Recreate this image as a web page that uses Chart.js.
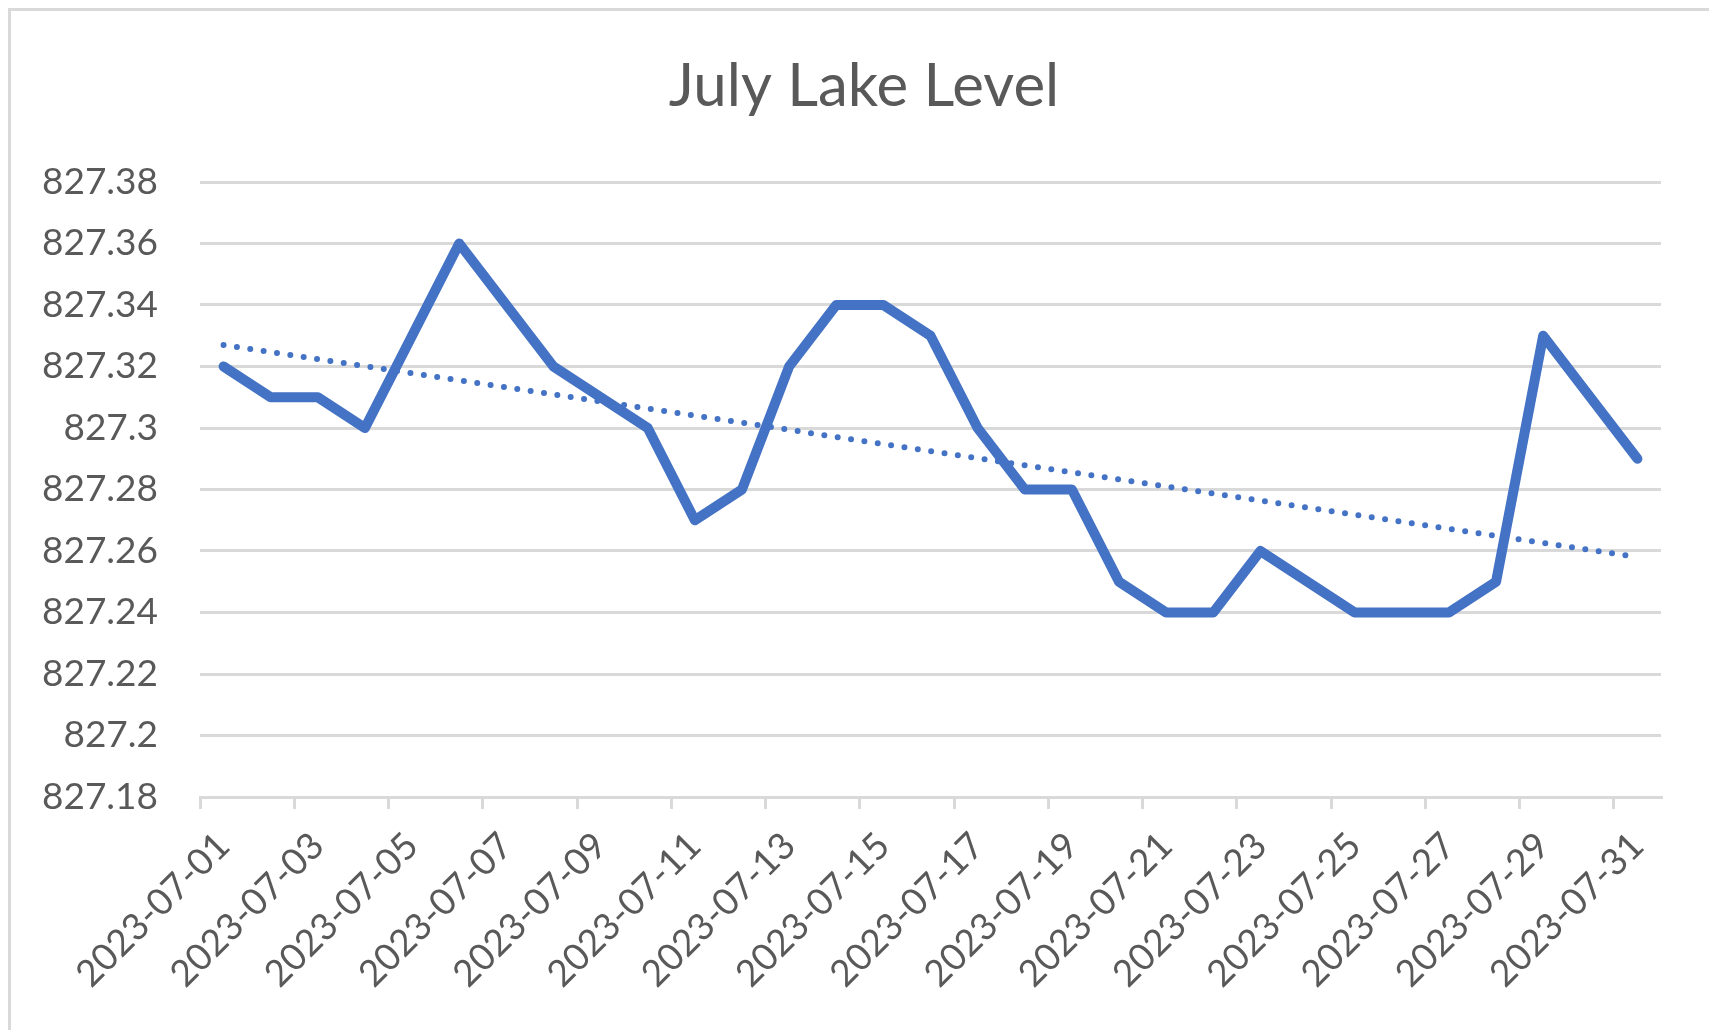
<!DOCTYPE html>
<html>
<head>
<meta charset="utf-8">
<title>July Lake Level</title>
<script src="https://cdn.jsdelivr.net/npm/chart.js@4/dist/chart.umd.min.js"></script>
<style>
  html, body { margin: 0; padding: 0; background: #fff; overflow: hidden; }
  #frame {
    position: absolute; left: 8px; top: 8px;
    width: 1800px; height: 1100px;
    border: 3px solid #d9d9d9;
  }
  #wrap { position: absolute; left: 0; top: 0; width: 1709px; height: 1030px; }
</style>
</head>
<body>
<div id="frame"></div>
<div id="wrap"><canvas id="chart" width="1709" height="1030"></canvas></div>
<script>
// days of July 2023
const days = ['2023-07-01', '2023-07-02', '2023-07-03', '2023-07-04', '2023-07-05', '2023-07-06',
    '2023-07-07', '2023-07-08', '2023-07-09', '2023-07-10', '2023-07-11', '2023-07-12',
    '2023-07-13', '2023-07-14', '2023-07-15', '2023-07-16', '2023-07-17', '2023-07-18',
    '2023-07-19', '2023-07-20', '2023-07-21', '2023-07-22', '2023-07-23', '2023-07-24',
    '2023-07-25', '2023-07-26', '2023-07-27', '2023-07-28', '2023-07-29', '2023-07-30',
    '2023-07-31'];

// lake level
const levels = [827.32, 827.31, 827.31, 827.30, 827.33, 827.36, 827.34, 827.32, 827.31, 827.30,
    827.27, 827.28, 827.32, 827.34, 827.34, 827.33, 827.30, 827.28, 827.28, 827.25,
    827.24, 827.24, 827.26, 827.25, 827.24, 827.24, 827.24, 827.25, 827.33, 827.31,
    827.29];

// dotted trend line, ends
const trendStart = 827.327;
const trendEnd = 827.258;

const yMin = 827.18;
const yMax = 827.38;
const yStep = 0.02;

const trend = days.map((d, i) => i === 0 ? trendStart : (i === days.length - 1 ? trendEnd : null));

const grey = '#d9d9d9';
const textGrey = '#595959';
const blue = '#4472c4';

const ctx = document.getElementById('chart');
const chart = new Chart(ctx, {
    type: 'line',
    data: {
        labels: days,
        datasets: [{
            label: 'Level',
            data: levels,
            borderColor: blue,
            backgroundColor: blue,
            borderWidth: 10,
            borderJoinStyle: 'round',
            borderCapStyle: 'round',
            pointRadius: 0,
            tension: 0,
            order: 2
        }, {
            label: 'Linear (Level)',
            data: trend,
            spanGaps: true,
            borderColor: blue,
            borderWidth: 6,
            borderDash: [0, 13.5],
            borderCapStyle: 'round',
            pointRadius: 0,
            order: 1
        }]
    },
    options: {
        responsive: false,
        animation: false,
        // left padding shifts the title centre to match the original
        layout: { padding: { left: 19, right: 0, top: 0, bottom: 0 } },
        plugins: {
            legend: { display: false },
            tooltip: { enabled: false },
            title: {
                display: true,
                text: 'July Lake Level',
                color: textGrey,
                font: { family: 'Lato', size: 60, weight: 'normal', lineHeight: 1.2 },
                padding: { top: 51, bottom: 59 }
            }
        },
        scales: {
            x: {
                offset: true,
                grid: {
                    offset: true,
                    drawOnChartArea: false,
                    drawTicks: true,
                    tickLength: 12,
                    lineWidth: 3,
                    color: c => (c.index % 2 === 0 ? grey : 'rgba(0,0,0,0)')
                },
                border: { display: true, color: grey, width: 3 },
                ticks: {
                    autoSkip: false,
                    minRotation: 45,
                    maxRotation: 45,
                    padding: 15,
                    color: textGrey,
                    font: { family: 'Lato', size: 37 },
                    callback: (v, i) => (i % 2 === 0 ? days[i] : '')
                },
                afterFit: s => { s.height = 233; }
            },
            y: {
                min: yMin,
                max: yMax,
                grid: { color: grey, lineWidth: 3, drawTicks: false },
                border: { display: false },
                ticks: {
                    stepSize: yStep,
                    padding: 42,
                    color: textGrey,
                    font: { family: 'Lato', size: 37 },
                    callback: v => String(parseFloat(v.toFixed(2)))
                },
                afterFit: s => { s.width = 181; }
            },
            // empty strip on the right, keeps the plot edge where it was
            right: {
                position: 'right',
                min: yMin,
                max: yMax,
                grid: { drawOnChartArea: false, drawTicks: false },
                border: { display: false },
                ticks: { display: false },
                afterFit: s => { s.width = 48; }
            }
        }
    }
});
</script>
</body>
</html>
